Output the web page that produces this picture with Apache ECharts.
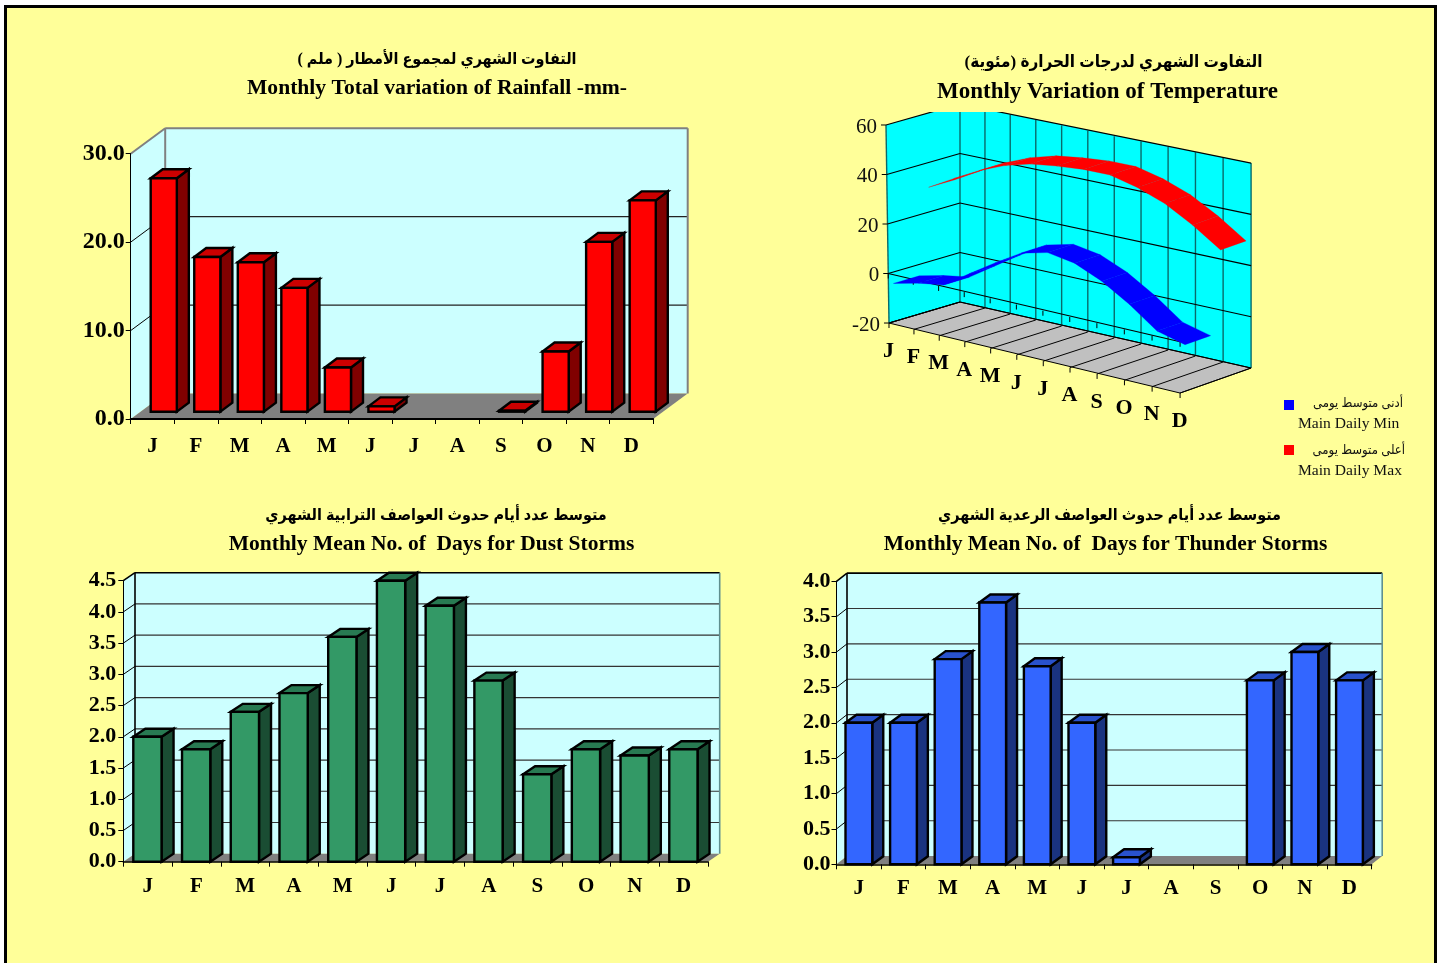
<!DOCTYPE html>
<html><head><meta charset="utf-8">
<style>
html,body{margin:0;padding:0;background:#fff;overflow:hidden}
#frame{position:absolute;left:4px;top:5px;width:1427px;height:1000px;border:3px solid #000;background:#FFFF99}
#main{position:absolute;left:0;top:0;width:1441px;height:963px}
</style>
<script src="https://cdn.jsdelivr.net/npm/echarts@6/dist/echarts.min.js"></script>
</head><body><div id="frame"></div><div id="main"></div>
<script>
const months = ['J','F','M','A','M','J','J','A','S','O','N','D'];
const rainfall = [26.4,17.5,16.9,14.0,5.0,0.6,0,0,0.1,6.8,19.2,23.9];
const dustDays = [2.0,1.8,2.4,2.7,3.6,4.5,4.1,2.9,1.4,1.8,1.7,1.8];
const thunderDays = [2.0,2.0,2.9,3.7,2.8,2.0,0.1,0,0,2.6,3.0,2.6];
const tempMin = [-4.6,-2.0,-0.2,6.7,13.5,19.8,22.4,20.6,15.9,9.2,1.1,-1.8];
const tempMax = [30.0,35.8,41.3,45.6,48.5,49.9,50.8,50.8,48.1,44.0,37.8,30.3];
const tempTicks = [-20,0,20,40,60];

const SERIF = "'Liberation Serif','DejaVu Sans',serif";
const ARABIC = "'Liberation Serif','DejaVu Sans Condensed','DejaVu Sans',serif";
const ink = '#000';

function poly(points, fill, stroke, lw){
  return {type:'polygon', shape:{points}, style:{fill, stroke: stroke||'none', lineWidth: lw||0, lineJoin:'miter'}};
}
function seg(a,b,stroke,lw){
  return {type:'line', shape:{x1:a[0],y1:a[1],x2:b[0],y2:b[1]}, style:{stroke, lineWidth:lw||1}};
}

/* ---- oblique 3D box charts ---- */
function wallSeries(g, cfg){
  return {type:'custom', xAxisIndex:g, yAxisIndex:g, z:2, silent:true, clip:false, data:[[0,0]],
    renderItem(params, api){
      const o = api.coord([0,0]), w = api.size([1,0])[0]*12;
      const top = api.coord([0,cfg.max])[1], dx=cfg.dx, dy=cfg.dy, L=o[0]-w/2/12, R=L+w, B=o[1];
      const c = [];
      c.push(poly([[L+dx,top-dy],[R+dx,top-dy],[R+dx,B-dy],[L+dx,B-dy]],'#CCFFFF'));
      c.push(poly([[L,top],[L+dx,top-dy],[L+dx,B-dy],[L,B]],'#CCFFFF'));
      cfg.grid.forEach(v=>{
        const y=api.coord([0,v])[1];
        c.push(seg([L,y],[L+dx,y-dy],ink,1));
        c.push(seg([L+dx,y-dy],[R+dx,y-dy],cfg.gridColor,1.2));
      });
      c.push(poly([[L,B],[L+dx,B-dy],[R+dx,B-dy],[R,B]],'#808080'));
      c.push(seg([L,top],[L+dx,top-dy],cfg.frame,cfg.frameW));
      c.push(seg([L+dx,top-dy],[R+dx,top-dy],cfg.frame,cfg.frameW));
      c.push(seg([L+dx,top-dy],[L+dx,B-dy],cfg.frame,cfg.frameW));
      c.push(seg([R+dx,top-dy],[R+dx,B-dy],cfg.rightFrame,cfg.frameW));
      return {type:'group', children:c};
    }};
}
function barSeries(g, name, values, cfg){
  return {type:'custom', name, xAxisIndex:g, yAxisIndex:g, z:4, clip:false,
    data: values.map((v,i)=>[i,v]),
    renderItem(params, api){
      const v = api.value(1);
      if(!v) return null;
      const c = api.coord([api.value(0),v]), b = api.coord([api.value(0),0]);
      const slot = api.size([1,0])[0];
      const x = c[0]-slot/2+cfg.inset, w = slot*cfg.ratio;
      const fy = cfg.front, top = c[1]-fy, bot = b[1]-fy;
      const ddx = cfg.bx, ddy = cfg.by;
      const lw = 2.4;
      return {type:'group', children:[
        poly([[x+w,top],[x+w+ddx,top-ddy],[x+w+ddx,bot-ddy],[x+w,bot]],cfg.side,ink,lw),
        poly([[x,top],[x+ddx,top-ddy],[x+w+ddx,top-ddy],[x+w,top]],cfg.cap,ink,lw),
        poly([[x,top],[x+w,top],[x+w,bot],[x,bot]],cfg.face,ink,lw)
      ]};
    }};
}
const axisFont = s=>({color:'#000',fontFamily:SERIF,fontWeight:'bold',fontSize:s});
function xAx(g,s,m,mg){return {type:'category',gridIndex:g,data:months,boundaryGap:true,z:3,
  axisLine:{show:true,lineStyle:{color:'#000',width:m||1.5}},axisTick:{show:true,length:5,lineStyle:{color:'#000',width:1}},
  axisLabel:{show:true,interval:0,margin:mg,...axisFont(s)},splitLine:{show:false}};}
function yAx(g,max,step,s,mg,pad){return {type:'value',gridIndex:g,min:0,max,interval:step,z:3,
  axisLine:{show:true,onZero:false,lineStyle:{color:'#000',width:1}},axisTick:{show:true,length:5,lineStyle:{color:'#000',width:1}},
  axisLabel:{show:true,margin:mg,padding:[pad,0,0,0],formatter:v=>v.toFixed(1),...axisFont(s)},splitLine:{show:false}};}

const rainCfg = {max:30,dx:34.5,dy:25.5,grid:[10,20],gridColor:'#222',frame:'#808080',rightFrame:'#808080',frameW:2};
const dustCfg = {max:4.5,dx:11.7,dy:8,grid:[0.5,1,1.5,2,2.5,3,3.5,4],gridColor:'#333',frame:'#000',rightFrame:'#5f8f8f',frameW:1.6};
const thunCfg = {max:4,dx:10.5,dy:8.2,grid:[0.5,1,1.5,2,2.5,3,3.5],gridColor:'#333',frame:'#000',rightFrame:'#5f8f8f',frameW:1.6};

/* ---- temperature perspective chart ---- */
function proj(api,i,v,d){
  const c=api.coord([i,v]), b=api.coord([0,-20]), e=api.coord([11,-20]);
  const W=e[0]-b[0], u=(c[0]-b[0])/W;
  const h=(b[1]-c[1])*(1+0.035*u);
  const lean=-3*(h/198)*(1-u)*(1-d);
  return [b[0]+W*(u*0.9376+0.0624*u*u)+71*d+lean, b[1]+70*u-(21+4*u)*d-h];
}
const TG = 3;
const tempWalls = {type:'custom',xAxisIndex:TG,yAxisIndex:TG,z:2,silent:true,clip:true,data:[[0,0]],
  renderItem(params,api){
    const p=(i,v,d)=>proj(api,i,v,d), c=[];
    c.push(poly([p(0,-20,1),p(11,-20,1),p(11,60,1),p(0,60,1)],'#00FFFF'));
    c.push(poly([p(0,-20,0),p(0,-20,1),p(0,60,1),p(0,60,0)],'#00FFFF'));
    c.push(poly([p(0,-20,0),p(11,-20,0),p(11,-20,1),p(0,-20,1)],'#C0C0C0',ink,1));
    for(let i=0;i<12;i++){
      c.push(seg(p(i,-20,1),p(i,60,1),'#0A6A6A',1.4));
      c.push(seg(p(i,-20,0),p(i,-20,1),ink,1));
    }
    c.push(seg(p(0,-20,0),p(0,60,0),'#0A6A6A',1.4));
    tempTicks.forEach(v=>{
      c.push(seg(p(0,v,0),p(0,v,1),ink,1.2));
      c.push(seg(p(0,v,1),p(11,v,1),ink,1.2));
    });
    c.push(seg(p(0,0,0),p(11,0,0),ink,1.2));
    return {type:'group',children:c};
  }};
const tempTickMarks = {type:'custom',xAxisIndex:TG,yAxisIndex:TG,z:2.5,silent:true,clip:false,
  data:months.map((m,i)=>[i,0]),
  renderItem(params,api){
    const i=api.value(0), p=(v,d)=>proj(api,i,v,d), a=p(0,0), f=p(-20,0);
    return {type:'group',children:[seg(a,[a[0],a[1]+5],ink,1),seg(f,[f[0],f[1]+5],ink,1)]};
  }};
function ribbon(name,values,color,d0,d1){
  return {type:'custom',name,xAxisIndex:TG,yAxisIndex:TG,z:3,clip:false,
    data:values.slice(0,-1).map((v,i)=>[i,v,values[i+1]]),
    renderItem(params,api){
      const i=api.value(0),a=api.value(1),b=api.value(2);
      return poly([proj(api,i,a,d0),proj(api,i+1,b,d0),proj(api,i+1,b,d1),proj(api,i,a,d1)],color,color,0.3);
    }};
}
const tempMonthLabels = {type:'custom',xAxisIndex:TG,yAxisIndex:TG,z:5,silent:true,clip:false,
  data:months.map((m,i)=>[i,-20]),
  renderItem(params,api){
    const i=api.value(0), f=proj(api,i,-20,0);
    return {type:'text',style:{x:f[0]-0.5,y:f[1]+28,text:months[i],fill:'#000',align:'center',verticalAlign:'middle',
      font:"bold 22px "+SERIF}};
  }};
const tempValueLabels = {type:'custom',xAxisIndex:TG,yAxisIndex:TG,z:5,silent:true,clip:false,
  data:tempTicks.map(v=>[0,v]),
  renderItem(params,api){
    const f=proj(api,0,api.value(1),0);
    return {type:'group',children:[
      seg([f[0]-5,f[1]],f,ink,1),
      {type:'text',style:{x:f[0]-9,y:f[1]+2,text:String(api.value(1)),fill:'#111',align:'right',verticalAlign:'middle',
      font:"21px "+SERIF}}]};
  }};

/* ---- titles ---- */
const titles = [
 ['\u200fالتفاوت الشهري لمجموع الأمطار ( ملم )\u200f','Monthly Total variation of Rainfall -mm-',437,60,88,16,21.6,437],
 ['\u200fالتفاوت الشهري لدرجات الحرارة (مئوية)\u200f','Monthly Variation of Temperature',1113.5,63,92,17,23,1107.5],
 ['متوسط عدد أيام حدوث العواصف الترابية الشهري','Monthly Mean No. of  Days for Dust Storms',436,516,544,16,21.5,431.5],
 ['متوسط عدد أيام حدوث العواصف الرعدية الشهري','Monthly Mean No. of  Days for Thunder Storms',1109.5,516,544,16,21.5,1105.5]
];
const titleOpts=[];
titles.forEach(t=>{
  titleOpts.push({text:t[0],left:t[2],top:t[3]-10,padding:0,textAlign:'center',textStyle:{fontFamily:ARABIC,fontWeight:'bold',fontSize:t[5],color:'#000',lineHeight:20}});
  titleOpts.push({text:t[1],left:t[7],top:t[4]-11,padding:0,textAlign:'center',textStyle:{fontFamily:SERIF,fontWeight:'bold',fontSize:t[6],color:'#000',lineHeight:22}});
});

const option = {
  animation:false,
  backgroundColor:'transparent',
  title:titleOpts,
  grid:[
    {left:130.7,top:153.7,width:522.5,height:265.3,containLabel:false},
    {left:123.3,top:580.7,width:584.7,height:281,containLabel:false},
    {left:836.5,top:581.3,width:535.2,height:283,containLabel:false},
    {left:880,top:112,width:380,height:288,containLabel:false}
  ],
  xAxis:[xAx(0,21,2,17),xAx(1,21,1.5,14),xAx(2,21,1.5,14),
    {type:'value',gridIndex:3,min:-0.34,max:14.02,show:false}],
  yAxis:[yAx(0,30,10,24,6,4),yAx(1,4.5,0.5,22,7,2),yAx(2,4,0.5,22,6,2),
    {type:'value',gridIndex:3,min:-51.1,max:65.25,show:false}],
  series:[
    wallSeries(0,rainCfg),
    barSeries(0,'Rainfall',rainfall,{inset:20,ratio:0.6,front:7.3,bx:12,by:9,face:'#FF0000',side:'#800000',cap:'#CC0000'}),
    wallSeries(1,dustCfg),
    barSeries(1,'Dust Storms',dustDays,{inset:10,ratio:0.58,front:0,bx:12,by:8,face:'#339966',side:'#1A4D33',cap:'#287A52'}),
    wallSeries(2,thunCfg),
    barSeries(2,'Thunder Storms',thunderDays,{inset:9,ratio:0.6,front:0,bx:11,by:8,face:'#3366FF',side:'#1A3380',cap:'#2952CC'}),
    tempWalls,tempTickMarks,
    ribbon('Main Daily Max',tempMax,'#FF0000',0.57,0.93),
    ribbon('Main Daily Min',tempMin,'#0000FF',0.07,0.43),
    tempMonthLabels,tempValueLabels
  ],
  graphic:[
    {type:'rect',shape:{x:1284,y:400,width:10,height:10},style:{fill:'#0000FF'}},
    {type:'rect',shape:{x:1284,y:445,width:10,height:10},style:{fill:'#FF0000'}},
    {type:'text',style:{x:1403,y:404,text:'أدنى متوسط يومى',align:'right',verticalAlign:'middle',font:"13px "+ARABIC,fill:'#111'}},
    {type:'text',style:{x:1298,y:424,text:'Main Daily Min',align:'left',verticalAlign:'middle',font:"15.6px "+SERIF,fill:'#111'}},
    {type:'text',style:{x:1405,y:451,text:'أعلى متوسط يومى',align:'right',verticalAlign:'middle',font:"13px "+ARABIC,fill:'#111'}},
    {type:'text',style:{x:1298,y:471,text:'Main Daily Max',align:'left',verticalAlign:'middle',font:"15.6px "+SERIF,fill:'#111'}}
  ]
};
const chart = echarts.init(document.getElementById('main'),null,{renderer:'canvas'});
chart.setOption(option);
</script></body></html>
